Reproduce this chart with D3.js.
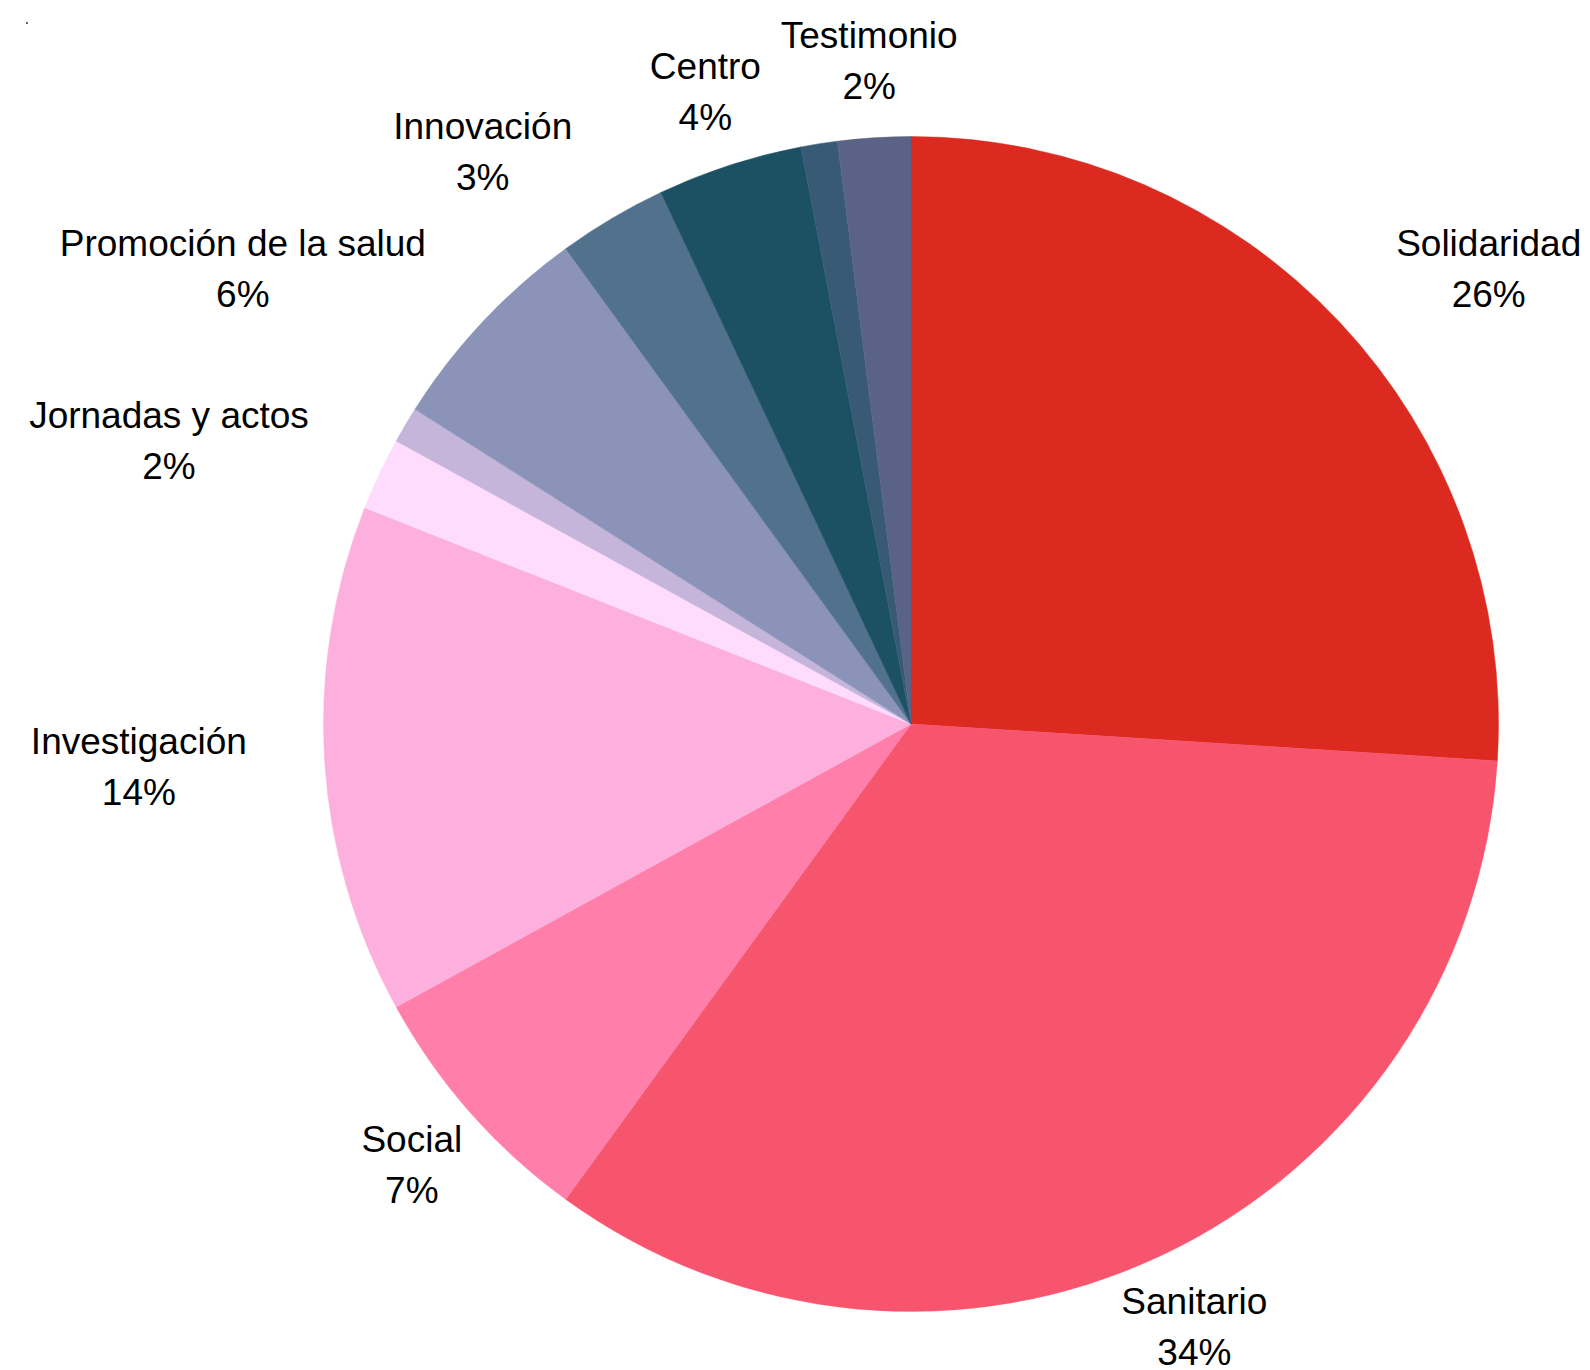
<!DOCTYPE html>
<html>
<head>
<meta charset="utf-8">
<script src="https://cdn.jsdelivr.net/npm/d3@7"></script>
<style>
  html, body { margin: 0; padding: 0; background: #ffffff; }
  svg { display: block; }
  .lbl { font-family: "Liberation Sans", Arial, sans-serif; font-size: 37px; fill: #000; }
</style>
</head>
<body>
<svg id="chart" width="1590" height="1370"></svg>
<script>
// Distribución por áreas (porcentaje del total), en sentido horario desde arriba
const categories = [
  "Solidaridad", "Sanitario", "Social", "Investigación", "Jornadas y actos",
  "Formación", "Promoción de la salud", "Innovación", "Centro", "Comunicación", "Testimonio"
];
const values = [26, 34, 7, 14, 2, 1, 6, 3, 4, 1, 2];
const colors = [
  "#dc2a20", "#f7546e", "#ff7faa", "#fdb0de", "#ffdcfe",
  "#c5b5db", "#8b94b8", "#52718d", "#1c5164", "#385a74", "#5a6285"
];
// Las porciones menores al umbral no llevan etiqueta
const labelThreshold = 2;

const width = 1590, height = 1370;
const cx = 911, cy = 724;
const radius = 587.5;
const labelRadius = radius + 78;
const lineGap = 51;     // separación entre la línea del nombre y la del porcentaje
const capHeight = 26.5; // altura de mayúsculas a 37px

const svg = d3.select("#chart");

// pequeño punto residual en la esquina superior izquierda
svg.append("rect").attr("x", 26).attr("y", 22).attr("width", 2).attr("height", 2).attr("fill", "#666");

const data = categories.map((c, i) => ({ name: c, value: values[i], color: colors[i] }));
const total = d3.sum(values);

const pie = d3.pie().value(d => d.value).sort(null).startAngle(0).endAngle(2 * Math.PI);
const arc = d3.arc().innerRadius(0).outerRadius(radius);

const g = svg.append("g").attr("transform", `translate(${cx},${cy})`);
const arcs = pie(data);

g.selectAll("path.slice")
  .data(arcs)
  .join("path")
  .attr("class", "slice")
  .attr("d", arc)
  .attr("fill", d => d.data.color)
  .attr("stroke", d => d.data.color)
  .attr("stroke-width", 0.5);

const fmt = v => Math.round(v / total * 100) + "%";

arcs.filter(d => d.data.value >= labelThreshold).forEach(d => {
  const a = (d.startAngle + d.endAngle) / 2;
  let x = Math.sin(a) * labelRadius;
  const y = -Math.cos(a) * labelRadius;

  const t = g.append("text").attr("class", "lbl").attr("text-anchor", "middle");
  const t1 = t.append("tspan").text(d.data.name);
  const t2 = t.append("tspan").text(fmt(d.data.value));

  const b1 = t1.node().getComputedTextLength();
  const b2 = t2.node().getComputedTextLength();
  const w = Math.max(b1, b2);
  const bb = t.node().getBBox();
  const h = bb.height + lineGap;

  // si el bloque de texto invade el círculo, se desplaza hacia fuera en horizontal
  const nx = Math.max(Math.abs(x) - w / 2, 0);
  const ny = Math.max(Math.abs(y) - h / 2, 0);
  if (Math.hypot(nx, ny) < radius) {
    x += Math.sign(x) * w / 2;
  }

  const base1 = y - lineGap / 2 + capHeight / 2;
  t1.attr("x", x).attr("y", base1);
  t2.attr("x", x).attr("y", base1 + lineGap);
});
</script>
</body>
</html>
